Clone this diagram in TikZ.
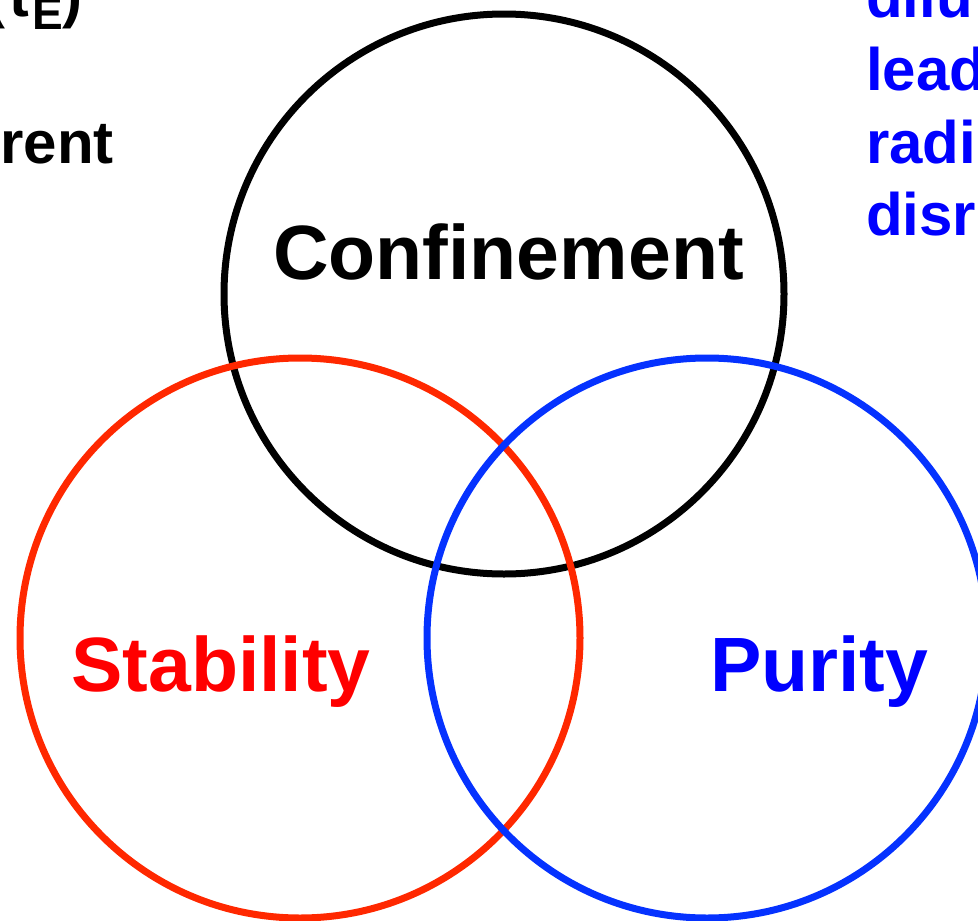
\documentclass[tikz,border=0pt]{standalone}
\usepackage{fontspec}
\setmainfont{Liberation Sans}
\usepackage{tikz}
\usetikzlibrary{positioning}
\definecolor{ringred}{RGB}{255,40,0}
\definecolor{ringblue}{RGB}{5,50,255}
\definecolor{txtred}{RGB}{255,0,0}
\definecolor{txtblue}{RGB}{0,0,255}

\begin{document}
\begin{tikzpicture}[x=1pt, y=-1pt,
    ring/.style={circle, draw, line width=7pt, inner sep=0pt, minimum size=560pt},
    big/.style={inner sep=0pt, anchor=base west, font=\fontsize{77}{92}\selectfont\bfseries},
    side/.style={inner sep=0pt, font=\fontsize{60}{72}\selectfont\bfseries}]
\useasboundingbox (0,0) rectangle (978,921);
\clip (0,0) rectangle (978,921);

% circles
\node[ring, draw=black] (conf) at (504,294) {};
\node[ring, draw=ringred] (stab) at (300,638) {};
\node[ring, draw=ringblue] (pur) at (707,638) {};

% labels
\node[big] (lconf) at (273,279) {Confinement};
\node[big, txtred] (lstab) at (71,691) {Stability};
\node[big, txtblue] (lpur) at (710,691) {Purity};

% text cut at the left edge
\node[side, anchor=base east] (tau) at (83,16) {(τ{\fontsize{46}{46}\selectfont\raisebox{-13pt}{E}})};
\node[side, anchor=base east] (rent) at (114,163) {rent};

% text cut at the right edge
\node[side, anchor=base west, txtblue] (dilu) at (866,17) {dilu};
\node[side, anchor=base west, txtblue] (lead) at (866,90) {lead};
\node[side, anchor=base west, txtblue] (radi) at (866,163) {radi};
\node[side, anchor=base west, txtblue] (disr) at (866,235) {disr};
\end{tikzpicture}
\end{document}
